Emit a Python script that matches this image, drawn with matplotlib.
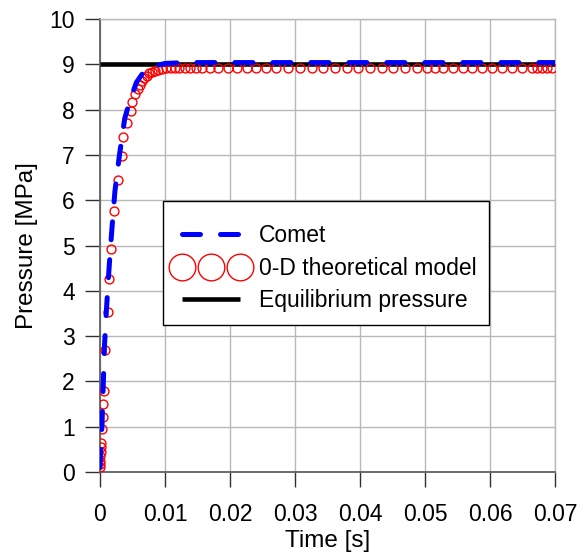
import matplotlib
matplotlib.use("Agg")
import matplotlib.pyplot as plt

plt.rcParams['font.family'] = ['Liberation Sans', 'DejaVu Sans']

# Comet simulation (blue dashed)
comet_t = [0.0, 0.0001, 0.0003, 0.0005, 0.0007, 0.0010, 0.0014, 0.0018, 0.0023,
           0.0030, 0.0038, 0.0046, 0.0056, 0.0068, 0.0080, 0.0100, 0.0130, 0.0200,
           0.0300, 0.0400, 0.0500, 0.0600, 0.0700]
comet_p = [0.1, 0.4, 1.0, 1.9, 2.8, 3.6, 4.5, 5.3, 6.2,
           7.0, 7.8, 8.2, 8.6, 8.85, 8.95, 9.02, 9.04, 9.04,
           9.04, 9.04, 9.04, 9.04, 9.04]

# 0-D theoretical model (red circles)
model_t = [0.0, 0.00002, 0.00005, 0.00008, 0.0001, 0.00012, 0.00015, 0.00025,
           0.0004, 0.0005, 0.0006, 0.0008, 0.0012, 0.0014, 0.0017, 0.0022,
           0.0028, 0.0034, 0.0036, 0.0042, 0.0047, 0.0050, 0.0054, 0.0058,
           0.0061, 0.0065, 0.0068, 0.0072, 0.0076, 0.0080, 0.0085, 0.0090,
           0.0096, 0.0102, 0.0110, 0.0116,
           0.0122, 0.0131, 0.0139, 0.0148, 0.0157, 0.0169, 0.0182, 0.0197,
           0.0211, 0.0226, 0.0240, 0.0256, 0.0271, 0.0289, 0.0308, 0.0326,
           0.0343, 0.0362, 0.0380, 0.0397, 0.0415, 0.0434, 0.0451, 0.0469,
           0.0488, 0.0503, 0.0515, 0.0528, 0.0543, 0.0558, 0.0572, 0.0588,
           0.0603, 0.0618, 0.0634, 0.0649, 0.0665, 0.0672, 0.0680, 0.0688,
           0.0695]
model_p = [0.12, 0.18, 0.25, 0.35, 0.45, 0.55, 0.65, 0.95,
           1.22, 1.5, 1.79, 2.69, 3.54, 4.27, 4.93, 5.77,
           6.45, 6.98, 7.39, 7.71, 7.98, 8.17, 8.34, 8.45,
           8.55, 8.63, 8.70, 8.75, 8.80, 8.83, 8.86, 8.88,
           8.90, 8.91, 8.92, 8.92,
           8.93, 8.93, 8.93, 8.93, 8.93, 8.93, 8.93, 8.93,
           8.93, 8.93, 8.93, 8.93, 8.93, 8.93, 8.93, 8.93,
           8.93, 8.93, 8.93, 8.93, 8.93, 8.93, 8.93, 8.93,
           8.93, 8.93, 8.93, 8.93, 8.93, 8.93, 8.93, 8.93,
           8.93, 8.93, 8.93, 8.93, 8.93, 8.93, 8.93, 8.93,
           8.93]

# equilibrium pressure
eq_t = [0.0, 0.07]
eq_p = [9.0, 9.0]

x_ticks = [0, 0.01, 0.02, 0.03, 0.04, 0.05, 0.06, 0.07]
x_labels = ['0', '0.01', '0.02', '0.03', '0.04', '0.05', '0.06', '0.07']
y_ticks = list(range(0, 11))

GRID = '#b8b8b8'
SPINE = '#606060'


def main():
    fig = plt.figure(figsize=(5.86, 5.53), dpi=100)
    ax = fig.add_axes([0.1706, 0.1465, 0.7765, 0.819])

    ax.plot(eq_t, eq_p, color='black', lw=3.3, solid_capstyle='butt',
            label='Equilibrium pressure', zorder=3)
    ax.plot(model_t, model_p, linestyle='none', marker='o', ms=6.4,
            mfc='none', mec='red', mew=1.0, label='0-D theoretical model', zorder=4)
    ax.plot(comet_t, comet_p, color='#0000ff', lw=3.6, dashes=(3.6, 4.0),
            dash_capstyle='round', label='Comet', zorder=5)

    ax.set_xlim(0, 0.07)
    ax.set_ylim(0, 10)
    ax.set_xticks(x_ticks)
    ax.set_xticklabels(x_labels)
    ax.set_yticks(y_ticks)
    ax.grid(True, color=GRID, lw=1.0)
    ax.set_axisbelow(True)

    for s in ['top', 'right']:
        ax.spines[s].set_color(GRID)
        ax.spines[s].set_linewidth(1.0)
    for s in ['left', 'bottom']:
        ax.spines[s].set_color(SPINE)
        ax.spines[s].set_linewidth(1.3)
        ax.spines[s].set_zorder(2.5)

    ax.tick_params(axis='both', direction='out', length=11, width=1.0,
                   color='#303030', labelsize=16.5)
    ax.tick_params(axis='x', pad=11)
    ax.tick_params(axis='y', pad=7)

    ax.set_xlabel('Time [s]', fontsize=17.5, labelpad=3)
    ax.set_ylabel('Pressure [MPa]', fontsize=17.5, labelpad=8)

    h, l = ax.get_legend_handles_labels()
    order = [2, 1, 0]
    leg = ax.legend([h[i] for i in order], [l[i] for i in order],
                    loc='lower left', bbox_to_anchor=(0.138, 0.3245),
                    fontsize=16.5, numpoints=3, markerscale=3.0,
                    handlelength=3.1, handletextpad=0.55, labelspacing=0.42,
                    borderpad=0.55, borderaxespad=0.0, fancybox=False,
                    framealpha=1.0, edgecolor='black',
                    title=' ', title_fontsize=1)
    leg.get_frame().set_linewidth(1.0)
    leg.set_zorder(10)

    fig.savefig('out.png', dpi=100)
    plt.close(fig)


if __name__ == "__main__":
    main()
